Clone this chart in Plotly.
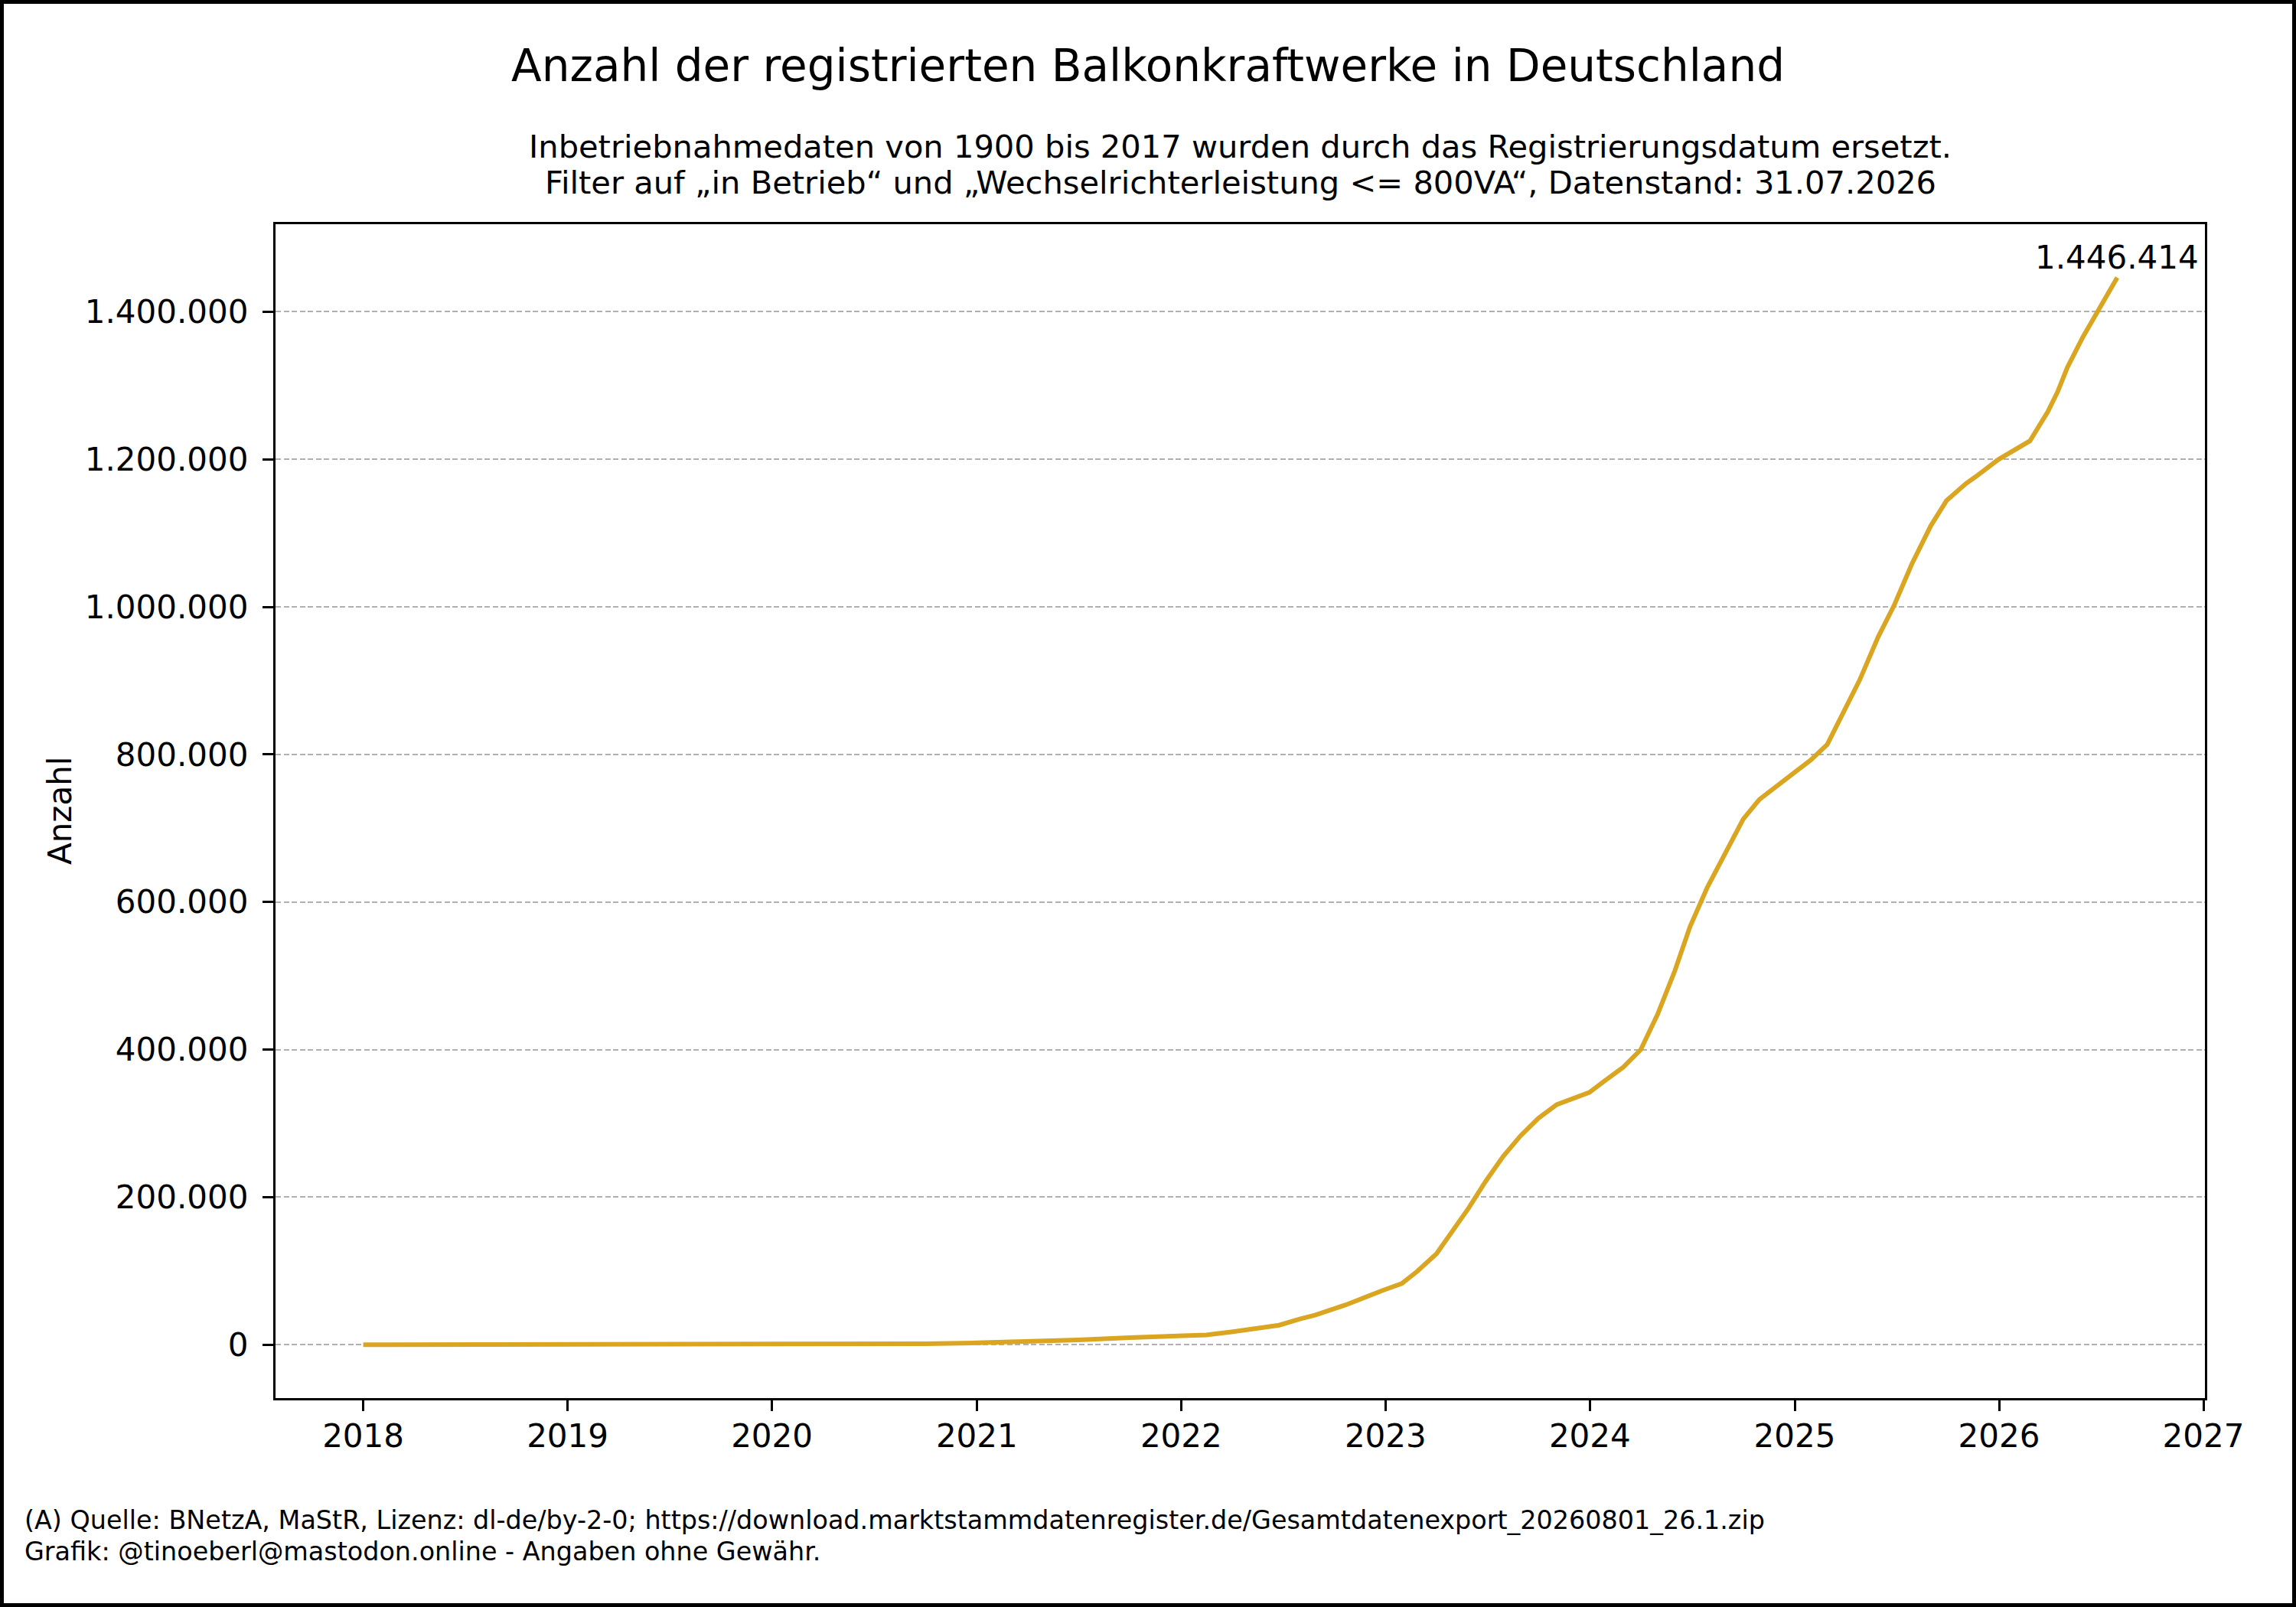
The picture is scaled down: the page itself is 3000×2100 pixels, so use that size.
import pandas as pd
import plotly.graph_objects as go

# cumulative registrations
dates = [
    "2018-01-01", "2018-07-01", "2019-01-01", "2019-07-01", "2020-01-01",
    "2020-07-01", "2020-10-01", "2021-01-01", "2021-04-01", "2021-07-01",
    "2021-10-01", "2022-01-01", "2022-02-15", "2022-04-01", "2022-05-15",
    "2022-06-25", "2022-08-01", "2022-08-28", "2022-10-22", "2022-12-05",
    "2022-12-28", "2023-01-30", "2023-02-26", "2023-04-02", "2023-05-01",
    "2023-05-30", "2023-06-28", "2023-07-30", "2023-08-30", "2023-10-01",
    "2023-11-03", "2023-12-31", "2024-01-28", "2024-03-01", "2024-04-01",
    "2024-05-01", "2024-06-01", "2024-06-28", "2024-07-29", "2024-09-01",
    "2024-10-01", "2024-10-30", "2025-01-01", "2025-01-30", "2025-02-28",
    "2025-03-28", "2025-04-27", "2025-05-30", "2025-06-28", "2025-07-29",
    "2025-09-01", "2025-09-29", "2025-11-03", "2025-11-20", "2025-12-31",
    "2026-02-25", "2026-03-29", "2026-04-16", "2026-05-03", "2026-05-31",
    "2026-07-01", "2026-07-31",
]
counts = [
    0, 100, 200, 300, 600,
    1000, 1400, 2500, 4000, 6500,
    9500, 11500, 13300, 17500, 22000,
    26500, 35000, 40100, 54000, 67900,
    73900, 83000, 99000, 123300, 153400,
    185800, 220500, 255200, 283000, 307000,
    325500, 342000, 358000, 376300, 400100,
    447700, 507200, 566700, 620200, 670800,
    712500, 739200, 775000, 792800, 813600,
    855300, 901000, 959300, 1003000, 1058000,
    1110000, 1144000, 1167400, 1176400, 1200000,
    1225000, 1264600, 1292400, 1324700, 1366300,
    1408000, 1446414,
]

year_ticks = [f"{y}-01-01" for y in range(2018, 2028)]
year_labels = [str(y) for y in range(2018, 2028)]
y_ticks = [0, 200000, 400000, 600000, 800000, 1000000, 1200000, 1400000]


def de_num(v):
    return f"{v:,}".replace(",", ".")


y_labels = [de_num(v) for v in y_ticks]

title = "Anzahl der registrierten Balkonkraftwerke in Deutschland"
sub1 = "Inbetriebnahmedaten von 1900 bis 2017 wurden durch das Registrierungsdatum ersetzt."
sub2 = "Filter auf \u201ein Betrieb\u201c und \u201eWechselrichterleistung <= 800VA\u201c, Datenstand: 31.07.2026"
foot1 = ("(A) Quelle: BNetzA, MaStR, Lizenz: dl-de/by-2-0; "
         "https://download.marktstammdatenregister.de/Gesamtdatenexport_20260801_26.1.zip")
foot2 = "Grafik: @tinoeberl@mastodon.online - Angaben ohne Gew\u00e4hr."

# figure geometry (pixels)
W, H = 3000, 2100
L, R, T, B = 360, 119, 293, 273
PW, PH = W - L - R, H - T - B


def px_x(x):
    return (x - L) / PW


def px_y(y):
    return (H - B - y) / PH


FONT = "DejaVu Sans"

# matplotlib-style 5% margins
t0, t1 = pd.Timestamp(dates[0]), pd.Timestamp(dates[-1])
pad = (t1 - t0) * 0.05
x_range = [t0 - pad, t1 + pad]
y_range = [-0.05 * max(counts), 1.05 * max(counts)]

fig = go.Figure()
fig.add_trace(go.Scatter(
    x=dates, y=counts, mode="lines",
    line=dict(color="#DAA520", width=6),
    showlegend=False,
))

axis_common = dict(
    showline=True, mirror=True, linecolor="black", linewidth=3.3,
    ticks="outside", ticklen=14, tickwidth=3.3, tickcolor="black",
    tickfont=dict(family=FONT, size=42, color="black"),
    zeroline=False,
)

fig.update_layout(
    width=W, height=H,
    margin=dict(l=L, r=R, t=T, b=B),
    paper_bgcolor="white", plot_bgcolor="white",
    font=dict(family=FONT, color="black"),
    xaxis=dict(
        range=x_range, tickmode="array", tickvals=year_ticks, ticktext=year_labels,
        showgrid=False, ticklabelstandoff=-4, **axis_common,
    ),
    yaxis=dict(
        range=y_range, tickmode="array", tickvals=y_ticks, ticktext=y_labels,
        showgrid=True, gridcolor="#b0b0b0", gridwidth=2, griddash="7px,3.5px",
        ticklabelstandoff=10,
        **axis_common,
    ),
)

ann = [
    dict(text=title, x=px_x(1500), y=px_y(86), font=dict(size=58),
         xanchor="center", yanchor="middle"),
    dict(text=sub1, x=0.5, y=px_y(192), font=dict(size=41.6),
         xanchor="center", yanchor="middle"),
    dict(text=sub2, x=0.5, y=px_y(238), font=dict(size=41.6),
         xanchor="center", yanchor="middle"),
    dict(text="Anzahl", x=px_x(78), y=0.5, font=dict(size=42), textangle=-90,
         xanchor="center", yanchor="middle"),
    dict(text=foot1, x=px_x(30), y=px_y(1986), font=dict(size=33.4),
         xanchor="left", yanchor="middle"),
    dict(text=foot2, x=px_x(30), y=px_y(2027), font=dict(size=33.4),
         xanchor="left", yanchor="middle"),
]
for a in ann:
    fig.add_annotation(xref="paper", yref="paper", showarrow=False, **a)

# label at the last value
fig.add_annotation(
    x=dates[-1], y=counts[-1], xref="x", yref="y",
    text=de_num(counts[-1]), showarrow=False,
    xanchor="center", yanchor="bottom",
    font=dict(family=FONT, size=42, color="black"),
)

# black frame around the whole figure
fig.add_shape(
    type="rect", xref="paper", yref="paper",
    x0=px_x(0), x1=px_x(W), y0=px_y(H), y1=px_y(0),
    line=dict(color="black", width=10), fillcolor="rgba(0,0,0,0)",
    layer="above",
)

# drop the default page margin so the figure fills the window exactly
fig.write_html(
    "out.html",
    config={"displayModeBar": False},
    post_script="document.body.style.margin='0px';",
)
